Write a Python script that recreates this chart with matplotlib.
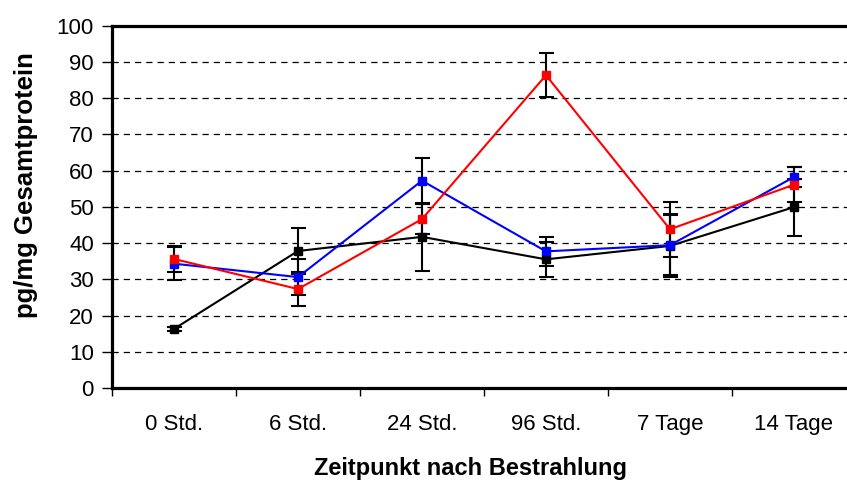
import numpy as np
import matplotlib
matplotlib.use("Agg")
import matplotlib.pyplot as plt

plt.rcParams['font.family'] = ['Liberation Sans', 'DejaVu Sans']

# Data
categories = ['0 Std.', '6 Std.', '24 Std.', '96 Std.', '7 Tage', '14 Tage']
black_vals = [16.3, 37.8, 41.7, 35.5, 39.2, 49.9]
black_err = [0.5, 6.4, 9.4, 4.8, 8.7, 7.9]
blue_vals = [34.3, 30.6, 57.2, 37.7, 39.4, 58.2]
blue_err = [4.5, 5.0, 6.3, 4.1, 8.2, 2.8]
red_vals = [35.6, 27.3, 46.6, 86.3, 43.8, 56.1]
red_err = [3.7, 4.6, 4.2, 6.1, 7.6, 4.9]
y_ticks = list(range(0, 101, 10))


def plot_chart() -> None:
    fig = plt.figure(figsize=(8.47, 4.82), dpi=100)
    # plot area runs past the right edge of the picture, as in the reference
    ax = fig.add_axes([0.1322, 0.195, 0.8784, 0.752])

    x = np.arange(len(categories))

    # dashed horizontal gridlines
    for yv in y_ticks[1:-1]:
        ax.axhline(yv, color='black', linestyle=(0, (5, 4)), linewidth=0.9, zorder=1)

    # error bars (all black)
    for vals, errs in [(black_vals, black_err), (blue_vals, blue_err), (red_vals, red_err)]:
        ax.errorbar(x, vals, yerr=errs, fmt='none', ecolor='black', elinewidth=1.5,
                    capsize=5.4, capthick=1.5, zorder=2)

    # series lines with square markers
    ax.plot(x, black_vals, color='black', marker='s', markersize=5.5, linewidth=1.5, zorder=3)
    ax.plot(x, blue_vals, color='#0000ff', marker='s', markersize=5.5, linewidth=1.5, zorder=4)
    ax.plot(x, red_vals, color='#ff0000', marker='s', markersize=5.5, linewidth=1.5, zorder=5)

    ax.set_xlim(-0.5, len(categories) - 0.5)
    ax.set_ylim(0, 100)

    # x ticks on category boundaries, labels centred
    ax.set_xticks(np.arange(-0.5, len(categories), 1.0))
    ax.set_xticklabels([])
    ax.set_xticks(x, minor=True)
    ax.set_xticklabels(categories, minor=True, fontsize=16)
    ax.tick_params(axis='x', which='minor', length=0, pad=19)
    ax.tick_params(axis='x', which='major', direction='out', length=6, width=1)

    ax.set_yticks(y_ticks)
    ax.set_yticklabels([str(v) for v in y_ticks], fontsize=16)
    ax.tick_params(axis='y', direction='out', length=7, width=1, pad=6)

    for side in ['left', 'bottom', 'top', 'right']:
        ax.spines[side].set_linewidth(2.3)

    ax.set_xlabel('Zeitpunkt nach Bestrahlung', fontsize=17, fontweight='bold')
    ax.xaxis.set_label_coords(0.4825, -0.223)
    ax.xaxis.label.set_va('center')
    ax.set_ylabel('pg/mg Gesamtprotein', fontsize=18.5, fontweight='bold')
    ax.yaxis.set_label_coords(-0.115, 0.56)
    ax.yaxis.label.set_va('center')

    fig.savefig('out.png', dpi=100)


def main():
    plot_chart()


if __name__ == "__main__":
    main()
